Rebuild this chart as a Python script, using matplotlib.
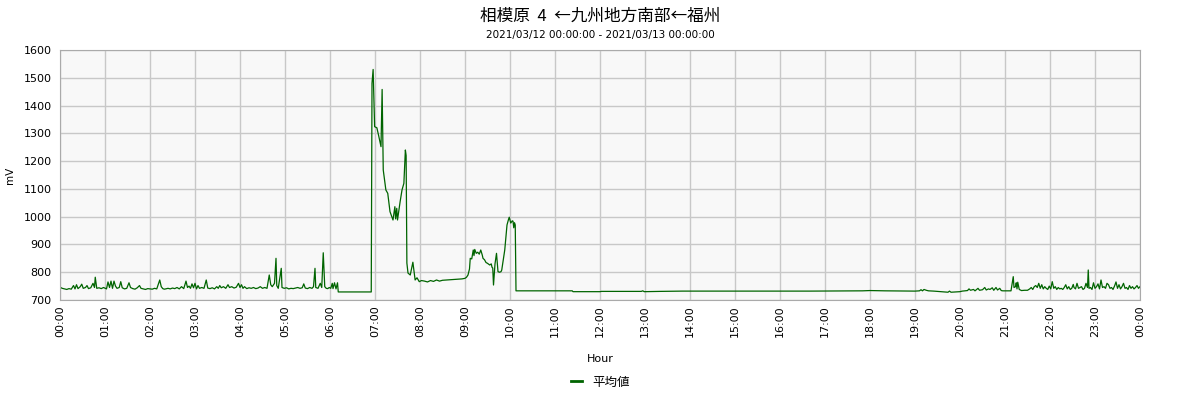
import numpy as np
import matplotlib.pyplot as plt

plt.rcParams['font.family'] = ['DejaVu Sans', 'Noto Sans CJK JP']

title = '相模原  4  ←九州地方南部←福州'
subtitle = '2021/03/12 00:00:00 - 2021/03/13 00:00:00'
series_name = '平均値'

# minutes after 00:00, average value in mV
minutes = [
    0, 3, 6, 9, 12, 15, 18, 20, 22, 24, 27, 29, 31, 34, 36, 38, 41, 44, 46, 47, 49,
    52, 55, 58, 62, 64, 66, 68, 70, 72, 74, 76, 79, 81, 83, 86, 89, 92, 94, 97, 100,
    103, 106, 108, 111, 114, 117, 120, 123, 126, 129, 133, 135, 137, 139, 141, 144,
    147, 150, 153, 156, 159, 162, 165, 168, 170, 172, 174, 176, 178, 180, 182, 184,
    186, 189, 192, 195, 197, 200, 203, 206, 209, 211, 213, 215, 218, 221, 224, 226,
    229, 232, 235, 238, 240, 242, 244, 246, 249, 252, 255, 258, 261, 264, 267, 270,
    273, 276, 279, 281, 283, 286, 288, 289, 291, 295, 296, 299, 302, 305, 308, 311,
    314, 317, 320, 323, 325, 327, 330, 333, 336, 338, 340, 341, 344, 347, 349, 351,
    353, 355, 357, 359, 361, 363, 364, 366, 368, 370, 371,
    415, 416, 417.5, 419.5, 422.5, 425, 428, 429.5, 431, 434.5, 437, 440, 444, 446.5,
    447.5, 449, 450, 453.5, 456, 458.5, 460.5, 461.5, 462.5, 464, 467, 470.5, 473.5,
    476, 479, 482, 486, 490, 494, 498, 502, 506, 510, 515, 520, 525, 530, 536,
    540, 542, 544, 546, 547, 549, 551, 552, 553, 555, 557, 559, 561, 563, 564,
    566, 568, 570, 573, 575, 576, 577, 578, 580, 582, 584, 586, 588, 589,
    591, 593, 596, 598, 599, 601, 603, 604, 605, 606, 607, 608, 609,
    683, 684, 720, 722, 775, 777, 779, 800, 830, 1000, 1070, 1080, 1100,
    1140, 1146, 1148, 1150, 1152, 1155, 1158, 1165, 1184, 1186, 1188, 1195, 1200,
    1203, 1210, 1212, 1214, 1218, 1220, 1224, 1226, 1230, 1233, 1235, 1238, 1240,
    1243, 1245, 1248, 1250, 1253, 1255, 1257, 1268, 1271, 1272, 1274, 1275, 1276,
    1277, 1279, 1282, 1286, 1290, 1293, 1295, 1297, 1299, 1301, 1303, 1305, 1307,
    1309, 1311, 1313, 1315, 1317, 1319, 1321, 1323, 1325, 1327, 1329, 1331, 1333,
    1335, 1337, 1339, 1341, 1343, 1345, 1347, 1349, 1351, 1352, 1354, 1356, 1358,
    1360, 1362, 1364, 1366, 1368, 1370, 1371, 1372, 1374, 1376, 1378, 1380, 1382,
    1384, 1386, 1388, 1390, 1392, 1394, 1396, 1398, 1400, 1402, 1404, 1406, 1408,
    1410, 1412, 1414, 1416, 1418, 1420, 1422, 1424, 1426, 1428, 1430, 1432, 1434,
    1436, 1438, 1440,
]
values = [
    746, 742, 740, 738, 741, 739, 752, 740, 755, 741, 748, 757, 742, 745, 752, 741, 744, 760, 745, 782, 742,
    744, 741, 745, 740, 765, 745, 768, 742, 768, 750, 742, 745, 766, 744, 740, 742, 762, 745, 741, 739,
    744, 752, 742, 740, 738, 741, 740, 739, 742, 740, 772, 748, 741, 739, 740, 742,
    740, 743, 741, 745, 740, 748, 741, 768, 745, 750, 742, 758, 744, 760, 740, 752,
    742, 745, 742, 772, 743, 741, 744, 740, 748, 742, 752, 744, 748, 742, 755, 745,
    748, 743, 746, 760, 745, 755, 742, 748, 741, 744, 742, 745, 741, 743, 748, 742,
    745, 742, 790, 755, 748, 760, 850, 752, 742, 814, 745, 742, 744, 740, 742, 741,
    743, 745, 742, 744, 758, 743, 741, 745, 742, 748, 814, 745, 742, 760, 745, 870,
    748, 742, 741, 745, 742, 760, 741, 762, 740, 762, 729,
    729, 1480, 1530, 1324, 1320, 1290, 1252, 1458, 1168, 1096, 1084, 1018, 988, 1036,
    992, 1030, 988, 1054, 1096, 1120, 1240, 1220, 833, 797, 790, 836, 772,
    780, 766, 770, 768, 765, 770, 767, 772, 768, 771, 772, 773, 774, 775, 776,
    778, 782, 790, 812, 850, 848, 880, 860, 882, 868, 872, 865, 880, 862, 850,
    845, 835, 832, 826, 830, 818, 815, 754, 830, 868, 802, 800, 802, 808,
    844, 880, 970, 990, 998, 977, 985, 984, 960, 978, 970, 733, 733,
    733, 730, 730, 731, 731, 733, 730, 731, 732, 732, 733, 734, 733,
    732, 733, 737, 733, 738, 735, 733, 732, 728, 732, 728, 729, 730,
    732, 734, 740, 735, 738, 733, 742, 735, 737, 745, 736, 740, 738,
    744, 735, 745, 736, 742, 734, 733, 733, 784, 745, 748, 762, 740,
    764, 738, 734, 735, 735, 740, 745, 738, 748, 752, 745, 760, 742,
    755, 740, 748, 742, 738, 750, 740, 766, 742, 748, 738, 745, 740,
    742, 738, 745, 755, 740, 748, 738, 742, 756, 745, 740, 760, 742,
    745, 748, 738, 742, 760, 745, 808, 742, 745, 738, 762, 742, 748,
    758, 740, 772, 745, 748, 742, 760, 755, 742, 745, 738, 750, 765,
    742, 755, 740, 748, 760, 742, 745, 738, 752, 742, 748, 740, 745,
    752, 742, 748,
]

hours = np.array(minutes) / 60.0
tick_hours = list(range(0, 25))
tick_labels = ['%02d:00' % (h % 24) for h in tick_hours]

fig = plt.figure(figsize=(12, 4), dpi=100)
ax = fig.add_axes([0.05, 0.25, 0.9, 0.625])
ax.set_facecolor('#f8f8f8')
ax.plot(hours, values, color='#006400', linewidth=0.9, label=series_name)

ax.set_xlim(0, 24)
ax.set_ylim(700, 1600)
ax.set_xticks(tick_hours)
ax.set_xticklabels(tick_labels, rotation=90, fontsize=8)
ax.set_yticks(range(700, 1601, 100))
ax.tick_params(axis='y', labelsize=8, length=0, pad=6)
ax.tick_params(axis='x', length=0, pad=4)
ax.grid(True, color='#c8c8c8', linewidth=1)
ax.set_axisbelow(True)
for s in ax.spines.values():
    s.set_color('#aaaaaa')

ax.set_xlabel('Hour', fontsize=8, labelpad=12)
ax.set_ylabel('mV', fontsize=7.5, labelpad=6)

fig.text(0.5, 0.96, title, ha='center', va='center', fontsize=12,
         family=['Noto Sans CJK JP', 'DejaVu Sans'])
fig.text(0.5, 0.912, subtitle, ha='center', va='center', fontsize=7.5)

leg = fig.legend(loc='center', bbox_to_anchor=(0.5, 0.045), frameon=False,
                 prop={'family': ['Noto Sans CJK JP', 'DejaVu Sans'], 'size': 9},
                 handlelength=0.9, handletextpad=0.8)
for line in leg.get_lines():
    line.set_linewidth(2)

fig.savefig('out.png', dpi=100)
